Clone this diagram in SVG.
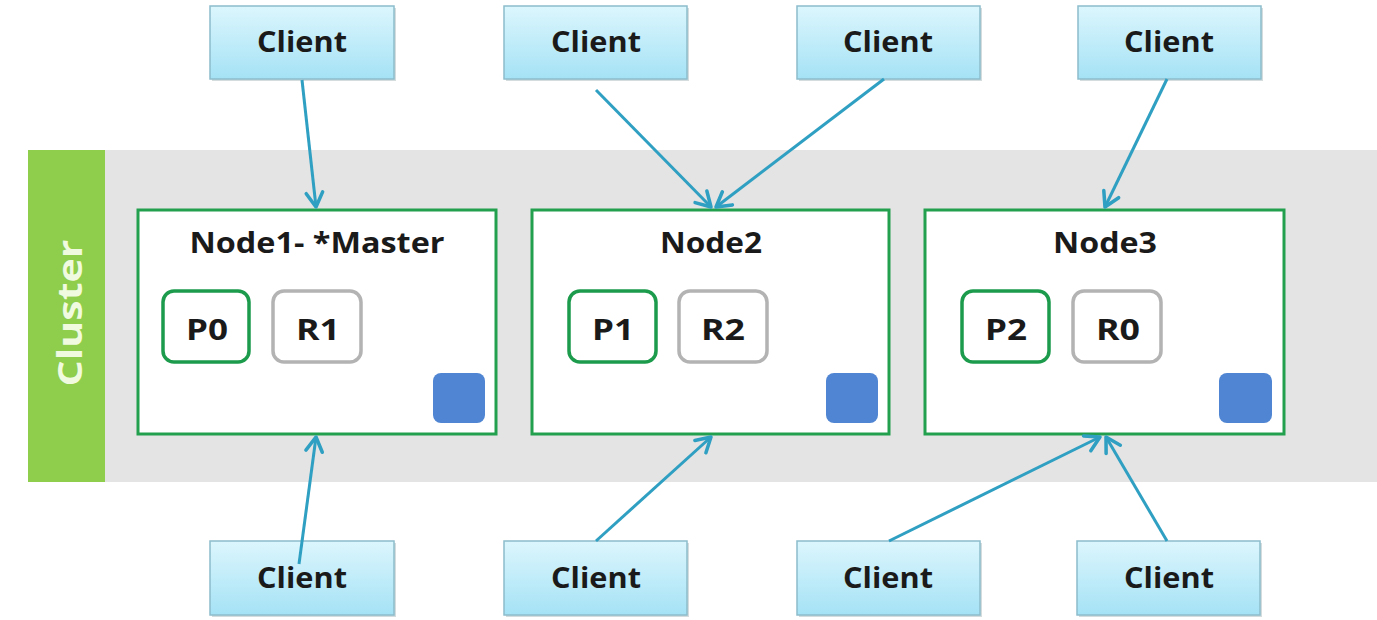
<svg xmlns="http://www.w3.org/2000/svg" width="1377" height="620" viewBox="0 0 1377 620">
<defs>
<linearGradient id="cg" x1="0" y1="0" x2="0" y2="1">
<stop offset="0" stop-color="#dcf6fd"/>
<stop offset="1" stop-color="#a5e2f5"/>
</linearGradient>
<marker id="ah" markerUnits="userSpaceOnUse" markerWidth="22" markerHeight="22" refX="15" refY="9" orient="auto" viewBox="0 0 20 18">
<path d="M2,1.5 L15,9 L2,16.5" fill="none" stroke="#2f9fc2" stroke-width="3.2" stroke-linecap="round" stroke-linejoin="round"/>
</marker>
<style>
.client{fill:url(#cg);stroke:#8cbccb;stroke-width:1.5}
.shadow{fill:#b9c4c8;opacity:0.6}
.lbl{font-family:"Open Sans","Liberation Sans",Arial,sans-serif;font-weight:bold;font-size:28px;fill:#1a1a1a}
.node{fill:#ffffff;stroke:#22a04e;stroke-width:3}
.pri{fill:#ffffff;stroke:#1c9b4c;stroke-width:3.5}
.rep{fill:#ffffff;stroke:#b3b3b3;stroke-width:3.5}
.sq{fill:#4f85d2}
.conn{stroke:#2f9fc2;stroke-width:3;fill:none;marker-end:url(#ah)}
</style>
</defs>
<rect x="0" y="0" width="1377" height="620" fill="#ffffff"/>
<g id="cluster">
<rect x="105" y="150" width="1272" height="332" fill="#e4e4e4"/>
<rect x="28" y="150" width="77" height="332" fill="#8fcd4c"/>
<text transform="translate(82,313) rotate(-90)" text-anchor="middle" font-family="Open Sans, Liberation Sans, Arial, sans-serif" font-weight="bold" font-size="34" fill="#effadf" textLength="147" lengthAdjust="spacingAndGlyphs">Cluster</text>
</g>
<g id="node1">
<rect class="node" x="138" y="210" width="358" height="224"/>
<text class="lbl" x="317" y="253" text-anchor="middle" textLength="255" lengthAdjust="spacingAndGlyphs">Node1- *Master</text>
<rect class="pri" x="163" y="291" width="86" height="71" rx="11"/>
<text class="lbl" x="207" y="340" text-anchor="middle" textLength="42" lengthAdjust="spacingAndGlyphs">P0</text>
<rect class="rep" x="273" y="291" width="88" height="71" rx="11"/>
<text class="lbl" x="318" y="340" text-anchor="middle" textLength="44" lengthAdjust="spacingAndGlyphs">R1</text>
<rect class="sq" x="433" y="373" width="52" height="50" rx="8"/>
</g>
<g id="node2">
<rect class="node" x="532" y="210" width="357" height="224"/>
<text class="lbl" x="711" y="253" text-anchor="middle" textLength="102" lengthAdjust="spacingAndGlyphs">Node2</text>
<rect class="pri" x="569" y="291" width="87" height="71" rx="11"/>
<text class="lbl" x="613" y="340" text-anchor="middle" textLength="42" lengthAdjust="spacingAndGlyphs">P1</text>
<rect class="rep" x="679" y="291" width="88" height="71" rx="11"/>
<text class="lbl" x="723" y="340" text-anchor="middle" textLength="44" lengthAdjust="spacingAndGlyphs">R2</text>
<rect class="sq" x="826" y="373" width="52" height="50" rx="8"/>
</g>
<g id="node3">
<rect class="node" x="925" y="210" width="359" height="224"/>
<text class="lbl" x="1105" y="253" text-anchor="middle" textLength="104" lengthAdjust="spacingAndGlyphs">Node3</text>
<rect class="pri" x="962" y="291" width="87" height="71" rx="11"/>
<text class="lbl" x="1006" y="340" text-anchor="middle" textLength="42" lengthAdjust="spacingAndGlyphs">P2</text>
<rect class="rep" x="1073" y="291" width="88" height="71" rx="11"/>
<text class="lbl" x="1118" y="340" text-anchor="middle" textLength="44" lengthAdjust="spacingAndGlyphs">R0</text>
<rect class="sq" x="1219" y="373" width="53" height="50" rx="8"/>
</g>
<g id="client-t1"><rect class="shadow" x="212" y="8" width="184" height="73"/><rect class="client" x="210" y="6" width="184" height="73"/><text class="lbl" x="302" y="52" text-anchor="middle" textLength="90" lengthAdjust="spacingAndGlyphs">Client</text></g>
<g id="client-t2"><rect class="shadow" x="506" y="8" width="183" height="73"/><rect class="client" x="504" y="6" width="183" height="73"/><text class="lbl" x="596" y="52" text-anchor="middle" textLength="90" lengthAdjust="spacingAndGlyphs">Client</text></g>
<g id="client-t3"><rect class="shadow" x="799" y="8" width="183" height="73"/><rect class="client" x="797" y="6" width="183" height="73"/><text class="lbl" x="888" y="52" text-anchor="middle" textLength="90" lengthAdjust="spacingAndGlyphs">Client</text></g>
<g id="client-t4"><rect class="shadow" x="1080" y="8" width="183" height="73"/><rect class="client" x="1078" y="6" width="183" height="73"/><text class="lbl" x="1169" y="52" text-anchor="middle" textLength="90" lengthAdjust="spacingAndGlyphs">Client</text></g>
<g id="client-b1"><rect class="shadow" x="212" y="543" width="184" height="74"/><rect class="client" x="210" y="541" width="184" height="74"/><text class="lbl" x="302" y="588" text-anchor="middle" textLength="90" lengthAdjust="spacingAndGlyphs">Client</text></g>
<g id="client-b2"><rect class="shadow" x="506" y="543" width="183" height="74"/><rect class="client" x="504" y="541" width="183" height="74"/><text class="lbl" x="596" y="588" text-anchor="middle" textLength="90" lengthAdjust="spacingAndGlyphs">Client</text></g>
<g id="client-b3"><rect class="shadow" x="799" y="543" width="183" height="74"/><rect class="client" x="797" y="541" width="183" height="74"/><text class="lbl" x="888" y="588" text-anchor="middle" textLength="90" lengthAdjust="spacingAndGlyphs">Client</text></g>
<g id="client-b4"><rect class="shadow" x="1079" y="543" width="183" height="74"/><rect class="client" x="1077" y="541" width="183" height="74"/><text class="lbl" x="1169" y="588" text-anchor="middle" textLength="90" lengthAdjust="spacingAndGlyphs">Client</text></g>
<g id="connectors">
<line class="conn" x1="302" y1="80" x2="316" y2="207"/>
<line class="conn" x1="596" y1="90" x2="711" y2="207"/>
<line class="conn" x1="884" y1="79" x2="716" y2="207"/>
<line class="conn" x1="1167" y1="79" x2="1105" y2="207"/>
<line class="conn" x1="299" y1="564" x2="316" y2="437"/>
<line class="conn" x1="596" y1="541" x2="711" y2="437"/>
<line class="conn" x1="889" y1="541" x2="1100" y2="437"/>
<line class="conn" x1="1167" y1="541" x2="1106" y2="437"/>
</g>
</svg>
